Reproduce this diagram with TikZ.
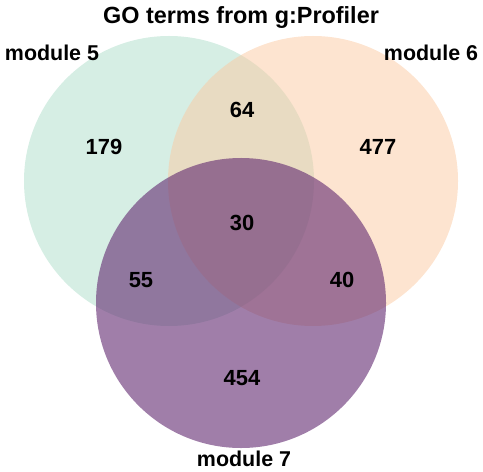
\documentclass[tikz,border=0pt]{standalone}
\usepackage{fontspec}
\setmainfont{Liberation Sans}
\usepackage{tikz}
\usetikzlibrary{positioning}
\definecolor{ModFive}{HTML}{ADDDC9}
\definecolor{ModSix}{HTML}{FBC9A1}
\definecolor{ModSeven}{HTML}{612870}
\tikzset{
    % Set circles
    setcircle/.style={
        circle,
        draw=none,
        minimum size=290bp,
        inner sep=0pt
    },
    % Text styles
    countlabel/.style={
        font=\fontsize{22}{24}\selectfont\bfseries,
        inner sep=0pt
    },
    setlabel/.style={
        font=\fontsize{21.5}{24}\selectfont\bfseries,
        inner sep=0pt,
        anchor=base
    },
    titlelabel/.style={
        font=\fontsize{23.5}{26}\selectfont\bfseries,
        inner sep=0pt,
        anchor=base
    }
}
\begin{document}
\begin{tikzpicture}[x=1bp,y=-1bp]
    \useasboundingbox (0,0) rectangle (483,472);

    % Circles
    \node[setcircle,fill=ModFive,fill opacity=0.5] (five) at (169,181) {};
    \node[setcircle,fill=ModSix,fill opacity=0.5] (six) at (313,181) {};
    \node[setcircle,fill=ModSeven,fill opacity=0.6] (seven) at (241,303) {};

    % Counts
    \node[countlabel] (n179) at (104,147) {179};
    \node[countlabel] (n64) at (242,110) {64};
    \node[countlabel] (n477) at (378,147) {477};
    \node[countlabel] (n30) at (242,223) {30};
    \node[countlabel] (n55) at (141,280) {55};
    \node[countlabel] (n40) at (342,280) {40};
    \node[countlabel] (n454) at (242,378) {454};

    % Set names and title
    \node[setlabel] (lfive) at (52,61) {module 5};
    \node[setlabel] (lsix) at (431,61) {module 6};
    \node[setlabel] (lseven) at (244,466) {module 7};
    \node[titlelabel] (title) at (241,24) {GO terms from g:Profiler};
\end{tikzpicture}
\end{document}
